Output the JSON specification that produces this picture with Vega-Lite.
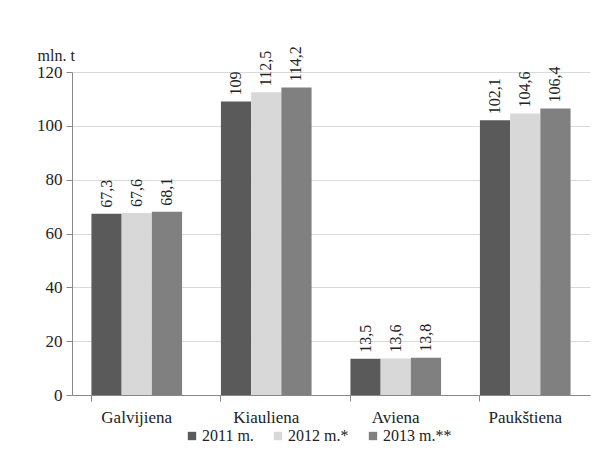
{
  "$schema": "https://vega.github.io/schema/vega-lite/v6.json",
  "width": 518,
  "height": 323,
  "autosize": "none",
  "padding": {"left": 72, "top": 72, "right": 25, "bottom": 76},
  "background": "white",
  "data": {
    "values": [
      {"cat": "Galvijiena", "year": "2011 m.", "v": 67.3, "label": "67,3"},
      {"cat": "Galvijiena", "year": "2012 m.*", "v": 67.6, "label": "67,6"},
      {"cat": "Galvijiena", "year": "2013 m.**", "v": 68.1, "label": "68,1"},
      {"cat": "Kiauliena", "year": "2011 m.", "v": 109, "label": "109"},
      {"cat": "Kiauliena", "year": "2012 m.*", "v": 112.5, "label": "112,5"},
      {"cat": "Kiauliena", "year": "2013 m.**", "v": 114.2, "label": "114,2"},
      {"cat": "Aviena", "year": "2011 m.", "v": 13.5, "label": "13,5"},
      {"cat": "Aviena", "year": "2012 m.*", "v": 13.6, "label": "13,6"},
      {"cat": "Aviena", "year": "2013 m.**", "v": 13.8, "label": "13,8"},
      {"cat": "Paukštiena", "year": "2011 m.", "v": 102.1, "label": "102,1"},
      {"cat": "Paukštiena", "year": "2012 m.*", "v": 104.6, "label": "104,6"},
      {"cat": "Paukštiena", "year": "2013 m.**", "v": 106.4, "label": "106,4"}
    ]
  },
  "encoding": {
    "x": {
      "field": "cat", "type": "nominal", "sort": null,
      "scale": {"paddingInner": 0.3, "paddingOuter": 0.15},
      "axis": {
        "title": null, "labelAngle": 0, "bandPosition": 0,
        "labelFont": "Times New Roman, Liberation Serif, serif", "labelFontSize": 17, "labelColor": "#222",
        "domainColor": "#888", "tickColor": "#888", "tickSize": 6, "labelPadding": 8
      }
    },
    "xOffset": {"field": "year", "type": "nominal", "sort": ["2011 m.", "2012 m.*", "2013 m.**"]},
    "y": {
      "field": "v", "type": "quantitative",
      "scale": {"domain": [0, 120], "nice": false},
      "axis": {
        "values": [0, 20, 40, 60, 80, 100, 120],
        "title": "mln. t", "titleAngle": 0, "titleX": -35, "titleY": -12,
        "titleAlign": "left", "titleBaseline": "alphabetic",
        "titleFont": "Times New Roman, Liberation Serif, serif", "titleFontSize": 16, "titleFontWeight": "normal", "titleColor": "#222",
        "labelFont": "Times New Roman, Liberation Serif, serif", "labelFontSize": 17, "labelColor": "#222",
        "domainColor": "#888", "tickColor": "#888", "tickSize": 6, "labelPadding": 4,
        "gridColor": "#d9d9d9"
      }
    }
  },
  "layer": [
    {
      "mark": {"type": "bar"},
      "encoding": {
        "color": {
          "field": "year", "type": "nominal",
          "sort": ["2011 m.", "2012 m.*", "2013 m.**"],
          "scale": {"range": ["#5a5a5a", "#d8d8d8", "#808080"]},
          "legend": {
            "title": null, "orient": "none", "direction": "horizontal",
            "legendX": 112, "legendY": 356,
            "symbolType": "square", "symbolSize": 70, "symbolStrokeWidth": 0,
            "labelFont": "Times New Roman, Liberation Serif, serif", "labelFontSize": 16, "labelColor": "#222",
            "columnPadding": 16, "labelOffset": 2
          }
        }
      }
    },
    {
      "mark": {
        "type": "text", "angle": 270, "align": "left", "baseline": "middle",
        "dx": 6, "font": "Times New Roman, Liberation Serif, serif", "fontSize": 16, "color": "#222"
      },
      "encoding": {"text": {"field": "label"}}
    }
  ],
  "config": {"view": {"stroke": null}}
}
